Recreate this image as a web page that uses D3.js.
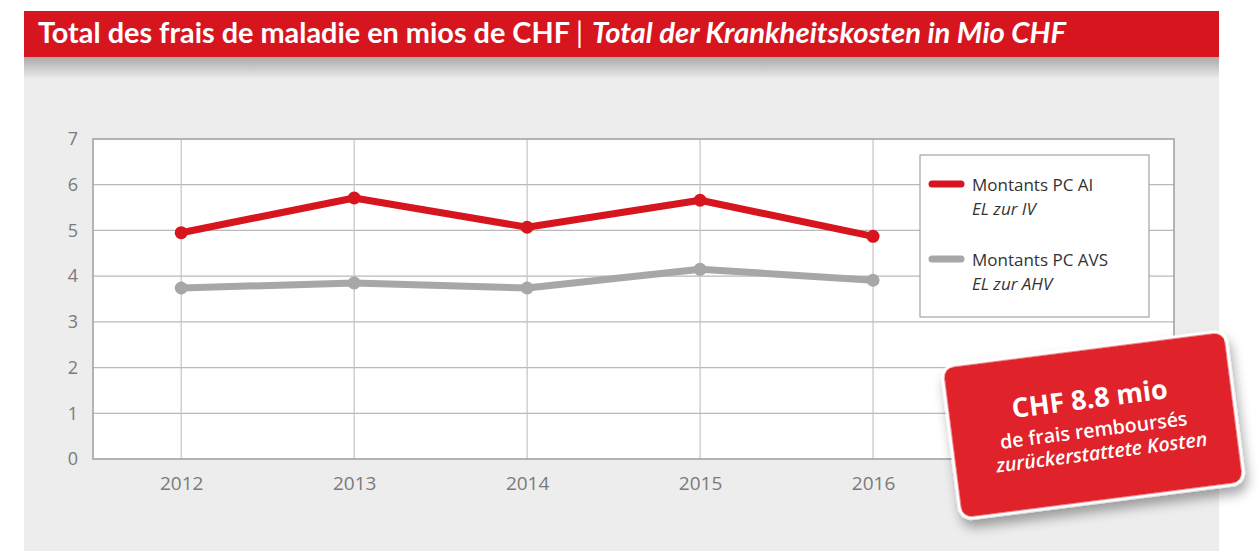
<!DOCTYPE html>
<html>
<head>
<meta charset="utf-8">
<script src="https://cdn.jsdelivr.net/npm/d3@7"></script>
<style>
  body { margin: 0; background: #fff; }
  svg { display: block; }
</style>
</head>
<body>
<svg width="1259" height="551"></svg>
<script>
// Daten
const years = [2012, 2013, 2014, 2015, 2016];
const valuesAI = [4.95, 5.71, 5.07, 5.66, 4.87];
const valuesAVS = [3.74, 3.85, 3.74, 4.15, 3.91];
const yTicks = [0, 1, 2, 3, 4, 5, 6, 7];
const legendLabels = [
  ["Montants PC AI", "EL zur IV"],
  ["Montants PC AVS", "EL zur AHV"]
];

const red = "#d7151f";
const grey = "#a6a7a9";

let svg = d3.select("svg");

// Schatten-Filter
const defs = svg.append("defs");
const grad = defs.append("linearGradient").attr("id", "shade").attr("x1", 0).attr("x2", 0).attr("y1", 0).attr("y2", 1);
grad.append("stop").attr("offset", "0%").attr("stop-color", "#a9a9a9");
grad.append("stop").attr("offset", "100%").attr("stop-color", "#ededed");

const drop = defs.append("filter").attr("id", "drop").attr("x", "-20%").attr("y", "-20%").attr("width", "140%").attr("height", "150%");
drop.append("feDropShadow").attr("dx", 2).attr("dy", 8).attr("stdDeviation", 6).attr("flood-color", "#000").attr("flood-opacity", 0.35);

// Hintergrund
svg.append("rect").attr("x", 24).attr("y", 57).attr("width", 1195).attr("height", 494).attr("fill", "#ededed");
svg.append("rect").attr("x", 24).attr("y", 57).attr("width", 1195).attr("height", 22).attr("fill", "url(#shade)");

// Titelbalken
svg.append("rect").attr("x", 24).attr("y", 11).attr("width", 1195).attr("height", 46).attr("fill", red);

const title = svg.append("text")
  .attr("y", 43)
  .attr("fill", "#fff")
  .style("font-family", "Lato, 'Open Sans', sans-serif")
  .style("font-size", "28px");
title.append("tspan").attr("x", 38).attr("textLength", 532).attr("lengthAdjust", "spacingAndGlyphs")
  .style("font-weight", "bold").text("Total des frais de maladie en mios de CHF");
title.append("tspan").attr("x", 576).style("font-weight", "normal").text("|");
title.append("tspan").attr("x", 592).attr("textLength", 474).attr("lengthAdjust", "spacingAndGlyphs")
  .style("font-weight", "bold").style("font-style", "italic").text("Total der Krankheitskosten in Mio CHF");

// Plot
const pLeft = 93, pRight = 1174, pTop = 139, pBottom = 459;
const x = d3.scaleLinear().domain([2011.49, 2017.74]).range([pLeft, pRight]);
const y = d3.scaleLinear().domain([0, 7]).range([pBottom, pTop]);

svg.append("rect").attr("x", pLeft).attr("y", pTop).attr("width", pRight - pLeft).attr("height", pBottom - pTop)
  .attr("fill", "#fff");

// Gitter
svg.append("g").selectAll("line").data(yTicks.slice(1, -1)).enter().append("line")
  .attr("x1", pLeft).attr("x2", pRight)
  .attr("y1", d => y(d)).attr("y2", d => y(d))
  .attr("stroke", "#b9b9b9").attr("stroke-width", 1.2);
svg.append("g").selectAll("line").data(years).enter().append("line")
  .attr("x1", d => x(d)).attr("x2", d => x(d))
  .attr("y1", pTop).attr("y2", pBottom)
  .attr("stroke", "#c4c4c4").attr("stroke-width", 1.2);

svg.append("rect").attr("x", pLeft).attr("y", pTop).attr("width", pRight - pLeft).attr("height", pBottom - pTop)
  .attr("fill", "none").attr("stroke", "#a3a3a3").attr("stroke-width", 1.6);

// Achsen
const yAxis = svg.append("g").attr("transform", "translate(" + pLeft + ",0)")
  .call(d3.axisLeft(y).tickValues(yTicks).tickFormat(d3.format("d")).tickSize(0).tickPadding(15));
const xAxis = svg.append("g").attr("transform", "translate(0," + pBottom + ")")
  .call(d3.axisBottom(x).tickValues(years).tickFormat(d3.format("d")).tickSize(0).tickPadding(18));
[yAxis, xAxis].forEach(a => {
  a.select(".domain").remove();
  a.selectAll("text").attr("fill", "#7a7a7a")
    .style("font-family", "'Open Sans', 'Noto Sans', sans-serif");
});
yAxis.selectAll("text").style("font-size", "18px");
xAxis.selectAll("text").style("font-size", "19px");

// Linien
const line = d3.line().x((d, i) => x(years[i])).y(d => y(d));
[[valuesAVS, grey], [valuesAI, red]].forEach(([vals, col]) => {
  svg.append("path").datum(vals).attr("d", line)
    .attr("fill", "none").attr("stroke", col).attr("stroke-width", 7).attr("stroke-linejoin", "round");
  svg.append("g").selectAll("circle").data(vals).enter().append("circle")
    .attr("cx", (d, i) => x(years[i])).attr("cy", d => y(d)).attr("r", 6.5).attr("fill", col);
});

// Legende
const lg = svg.append("g");
lg.append("rect").attr("x", 920).attr("y", 155).attr("width", 229).attr("height", 162)
  .attr("fill", "#fff").attr("stroke", "#a3a3a3").attr("stroke-width", 1.2);
legendLabels.forEach((lab, i) => {
  const yy = 184 + i * 75;
  lg.append("line").attr("x1", 932).attr("x2", 961).attr("y1", yy).attr("y2", yy)
    .attr("stroke", i === 0 ? red : grey).attr("stroke-width", 7).attr("stroke-linecap", "round");
  lg.append("text").attr("x", 972).attr("y", yy + 7).text(lab[0])
    .attr("fill", "#333").style("font-family", "'Open Sans', sans-serif").style("font-size", "17px");
  lg.append("text").attr("x", 972).attr("y", yy + 31).text(lab[1])
    .attr("fill", "#333").style("font-family", "'Open Sans', sans-serif").style("font-size", "17px")
    .style("font-style", "italic");
});

// Badge
const badge = svg.append("g").attr("transform", "translate(1093,425) rotate(-7.3)");
badge.append("rect").attr("x", -143).attr("y", -77).attr("width", 286).attr("height", 154).attr("rx", 12)
  .attr("fill", "#e0202a").attr("stroke", "#fff").attr("stroke-width", 3).attr("filter", "url(#drop)");
badge.append("text").attr("x", 0).attr("y", -17).attr("text-anchor", "middle").text("CHF 8.8 mio")
  .attr("fill", "#fff").style("font-family", "'Open Sans', sans-serif").style("font-weight", "bold").style("font-size", "27px");
badge.append("text").attr("x", 0).attr("y", 12).attr("text-anchor", "middle").text("de frais remboursés")
  .attr("fill", "#fff").style("font-family", "'Open Sans', sans-serif").style("font-weight", "600").style("font-size", "19.5px");
badge.append("text").attr("x", 5).attr("y", 35).attr("text-anchor", "middle").text("zurückerstattete Kosten")
  .attr("fill", "#fff").style("font-family", "'Open Sans', sans-serif").style("font-weight", "600").style("font-style", "italic").style("font-size", "19.5px");
</script>
</body>
</html>
